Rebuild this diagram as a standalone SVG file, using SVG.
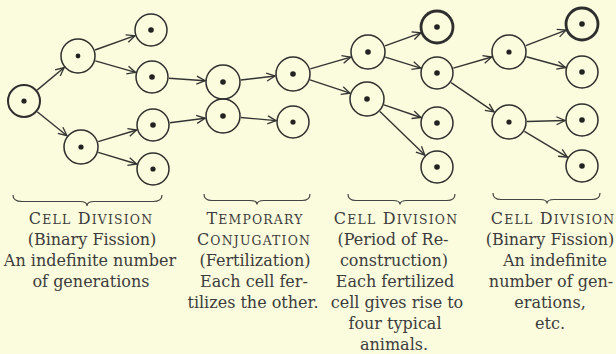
<svg xmlns="http://www.w3.org/2000/svg" width="616" height="354" viewBox="0 0 616 354">
<style>
.cell{fill:none;stroke:#2e2e2e;stroke-width:1.5}
.thick{stroke-width:2.8}
.med{stroke-width:2}
.nuc{fill:#222}
.arr{stroke:#333;stroke-width:1.4;fill:none;marker-end:url(#ah)}
.brace{fill:none;stroke:#444;stroke-width:1.2}
text{font-family:"DejaVu Serif","Liberation Serif",serif;font-size:16px;fill:#3c3c3c;text-anchor:middle}
.sc{letter-spacing:1.2px}
.s{font-size:12.4px}
</style>
<defs>
<marker id="ah" markerUnits="userSpaceOnUse" markerWidth="14" markerHeight="12" viewBox="-10 -6 12 12" refX="0" refY="0" orient="auto">
<path d="M-8.5,-4 L0,0 L-8.5,4" fill="none" stroke="#333" stroke-width="1.3"/>
</marker>
</defs>
<rect width="616" height="354" fill="#fbfbdd"/>
<g id="connectors">
<line class="arr" x1="37.1" y1="90.1" x2="64.2" y2="67.5"/>
<line class="arr" x1="37.2" y1="111.7" x2="67" y2="135.7"/>
<line class="arr" x1="95" y1="50" x2="135" y2="35.7"/>
<line class="arr" x1="95.3" y1="60.9" x2="135.6" y2="72.4"/>
<line class="arr" x1="98.2" y1="141.7" x2="136.7" y2="130"/>
<line class="arr" x1="98.2" y1="152.3" x2="136.7" y2="164"/>
<line class="arr" x1="169" y1="78.2" x2="205.1" y2="80.7"/>
<line class="arr" x1="169.9" y1="122.8" x2="205.1" y2="118.3"/>
<line class="arr" x1="240.9" y1="80" x2="275.1" y2="76"/>
<line class="arr" x1="240.9" y1="117.5" x2="276.1" y2="120.6"/>
<line class="arr" x1="310.3" y1="68.9" x2="350.7" y2="57.1"/>
<line class="arr" x1="310" y1="79.8" x2="350" y2="93.2"/>
<line class="arr" x1="385" y1="45.9" x2="421" y2="32.8"/>
<line class="arr" x1="385.2" y1="57.2" x2="420.7" y2="68.1"/>
<line class="arr" x1="384" y1="104.8" x2="420.9" y2="117.5"/>
<line class="arr" x1="379.9" y1="111.5" x2="424.8" y2="155.1"/>
<line class="arr" x1="453.3" y1="68.2" x2="491.7" y2="57"/>
<line class="arr" x1="451.1" y1="82.6" x2="494.1" y2="111.9"/>
<line class="arr" x1="525.8" y1="45.6" x2="566.1" y2="30.1"/>
<line class="arr" x1="526.4" y1="56.8" x2="565.6" y2="67.5"/>
<line class="arr" x1="527" y1="121.5" x2="565" y2="120.5"/>
<line class="arr" x1="524.4" y1="131.3" x2="567.4" y2="157.2"/>
</g>
<g id="cellA"><circle class="cell med" cx="24" cy="101" r="16"/><circle class="nuc" cx="24" cy="101" r="2.6"/></g>
<g id="cellB"><circle class="cell" cx="78" cy="56" r="17"/><circle class="nuc" cx="78" cy="56" r="2.4"/></g>
<g id="cellC"><circle class="cell" cx="81" cy="147" r="17"/><circle class="nuc" cx="81" cy="147" r="2.6"/></g>
<g id="cellD1"><circle class="cell" cx="151" cy="30" r="16"/><circle class="nuc" cx="151" cy="30" r="2.8"/></g>
<g id="cellD2"><circle class="cell" cx="152" cy="77" r="16"/><circle class="nuc" cx="152" cy="77" r="2.8"/></g>
<g id="cellD3"><circle class="cell" cx="153" cy="125" r="16"/><circle class="nuc" cx="153" cy="125" r="2.8"/></g>
<g id="cellD4"><circle class="cell" cx="153" cy="169" r="16"/><circle class="nuc" cx="153" cy="169" r="2.6"/></g>
<g id="cellE1"><circle class="cell" cx="223" cy="82" r="17"/><circle class="nuc" cx="223" cy="82" r="2.8"/></g>
<g id="cellE2"><circle class="cell" cx="223" cy="116" r="17"/><circle class="nuc" cx="223" cy="116" r="2.8"/></g>
<g id="cellF1"><circle class="cell" cx="293" cy="74" r="17"/><circle class="nuc" cx="293" cy="74" r="2.8"/></g>
<g id="cellF2"><circle class="cell" cx="293" cy="122" r="16"/><circle class="nuc" cx="293" cy="122" r="2.6"/></g>
<g id="cellG1"><circle class="cell" cx="368" cy="52" r="17"/><circle class="nuc" cx="368" cy="52" r="2.8"/></g>
<g id="cellG2"><circle class="cell" cx="367" cy="99" r="17"/><circle class="nuc" cx="367" cy="99" r="2.8"/></g>
<g id="cellH1"><circle class="cell thick" cx="437" cy="27" r="16"/><circle class="nuc" cx="437" cy="27" r="2.8"/></g>
<g id="cellH2"><circle class="cell" cx="437" cy="73" r="16"/><circle class="nuc" cx="437" cy="73" r="2.8"/></g>
<g id="cellH3"><circle class="cell" cx="437" cy="123" r="16"/><circle class="nuc" cx="437" cy="123" r="2.8"/></g>
<g id="cellH4"><circle class="cell" cx="437" cy="167" r="16"/><circle class="nuc" cx="437" cy="167" r="2.8"/></g>
<g id="cellI1"><circle class="cell" cx="509" cy="52" r="17"/><circle class="nuc" cx="509" cy="52" r="2.6"/></g>
<g id="cellI2"><circle class="cell" cx="509" cy="122" r="17"/><circle class="nuc" cx="509" cy="122" r="2.6"/></g>
<g id="cellJ1"><circle class="cell thick" cx="582" cy="24" r="16"/><circle class="nuc" cx="582" cy="24" r="2.8"/></g>
<g id="cellJ2"><circle class="cell" cx="582" cy="72" r="16"/><circle class="nuc" cx="582" cy="72" r="2.8"/></g>
<g id="cellJ3"><circle class="cell" cx="582" cy="120" r="16"/><circle class="nuc" cx="582" cy="120" r="2.8"/></g>
<g id="cellJ4"><circle class="cell" cx="582" cy="166" r="16"/><circle class="nuc" cx="582" cy="166" r="2.8"/></g>
<g id="braces">
<path class="brace" d="M13,195 C13,199 16,201.5 22,201.5 L80,201.5 C84.5,201.5 87,203 87,206 C87,203 89.5,201.5 94,201.5 L153,201.5 C159,201.5 162,199 162,195"/>
<path class="brace" d="M204,194 C204,198 207,200.5 212,200.5 L250,200.5 C254.5,200.5 257,202 257,204.5 C257,202 259.5,200.5 264,200.5 L302,200.5 C307,200.5 310,198 310,194"/>
<path class="brace" d="M348,194 C348,198 351,200.5 356,200.5 L393,200.5 C397.5,200.5 400,202 400,204.5 C400,202 402.5,200.5 407,200.5 L447,200.5 C452,200.5 455,198 455,194"/>
<path class="brace" d="M493,193 C493,197 496,199.5 501,199.5 L540,199.5 C544.5,199.5 547,201 547,203.5 C547,201 549.5,199.5 554,199.5 L592,199.5 C597,199.5 600,197 600,193"/>
</g>
<g id="label1">
<text x="91" y="224" class="sc">C<tspan class="s">ELL</tspan> D<tspan class="s">IVISION</tspan></text>
<text x="92" y="245">(Binary Fission)</text>
<text x="90" y="266">An indefinite number</text>
<text x="91" y="287">of generations</text>
</g>
<g id="label2">
<text x="255" y="224" class="sc">T<tspan class="s">EMPORARY</tspan></text>
<text x="254" y="245" class="sc">C<tspan class="s">ONJUGATION</tspan></text>
<text x="255" y="266">(Fertilization)</text>
<text x="254" y="287">Each cell fer-</text>
<text x="253" y="308">tilizes the other.</text>
</g>
<g id="label3">
<text x="396" y="224" class="sc">C<tspan class="s">ELL</tspan> D<tspan class="s">IVISION</tspan></text>
<text x="393" y="245">(Period of Re-</text>
<text x="394" y="266">construction)</text>
<text x="395" y="287">Each fertilized</text>
<text x="397" y="308">cell gives rise to</text>
<text x="395" y="329">four typical</text>
<text x="394" y="350">animals.</text>
</g>
<g id="label4">
<text x="553" y="224" class="sc">C<tspan class="s">ELL</tspan> D<tspan class="s">IVISION</tspan></text>
<text x="550" y="245">(Binary Fission)</text>
<text x="555" y="266">An indefinite</text>
<text x="551" y="287">number of gen-</text>
<text x="550" y="308">erations,</text>
<text x="550" y="329">etc.</text>
</g>
</svg>
